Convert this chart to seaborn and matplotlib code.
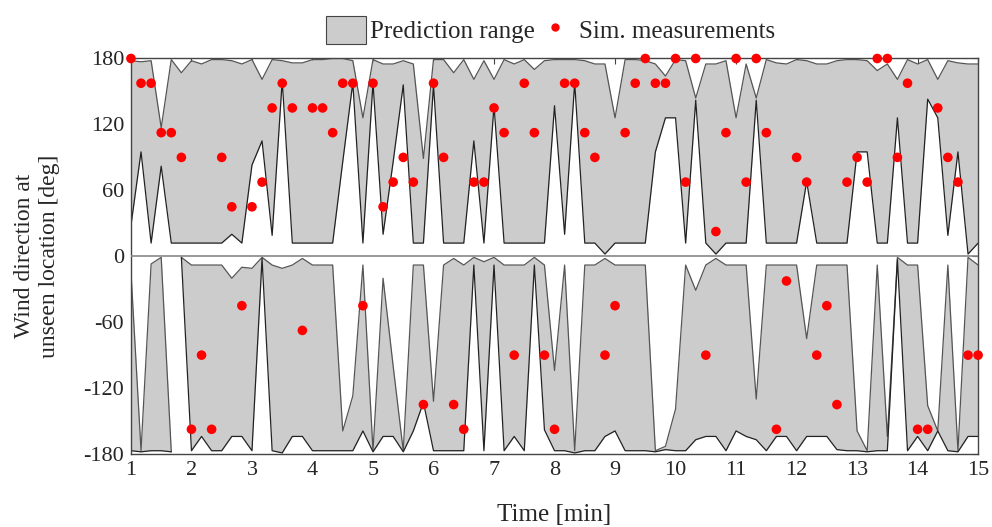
import numpy as np
import matplotlib
matplotlib.use("Agg")
import matplotlib.pyplot as plt
import seaborn as sns
from matplotlib.patches import Patch
from matplotlib.lines import Line2D

# 85 samples, one every 10 s from 1 to 15 min
time_min = np.arange(85) / 6 + 1

measured_deg = [180, 157.5, 157.5, 112.5, 112.5, 90, -157.5, -90, -157.5, 90,
                45, -45, 45, 67.5, 135, 157.5, 135, -67.5, 135, 135,
                112.5, 157.5, 157.5, -45, 157.5, 45, 67.5, 90, 67.5, -135,
                157.5, 90, -135, -157.5, 67.5, 67.5, 135, 112.5, -90, 157.5,
                112.5, -90, -157.5, 157.5, 157.5, 112.5, 90, -90, -45, 112.5,
                157.5, 180, 157.5, 157.5, 180, 67.5, 180, -90, 22.5, 112.5,
                180, 67.5, 180, 112.5, -157.5, -22.5, 90, 67.5, -90, -45,
                -135, 67.5, 90, 67.5, 180, 180, 90, 157.5, -157.5, -157.5,
                135, 90, 67.5, -90, -90]

# prediction range, positive half
pos_hi = [178, 177, 178, 117, 179, 167, 178, 175, 179, 179, 178, 175, 179, 161, 179, 178, 176,
          176, 179, 179, 180, 180, 178, 126, 179, 175, 175, 178, 175, 89, 179, 179, 167, 179,
          161, 178, 161, 179, 175, 179, 170, 178, 179, 179, 179, 178, 175, 175, 126, 179, 179,
          178, 175, 164, 179, 178, 144, 175, 175, 178, 126, 175, 144, 179, 176, 175, 179, 178,
          175, 175, 178, 179, 179, 178, 169, 175, 161, 179, 175, 179, 161, 178, 176, 175, 175]
pos_lo = [28, 95, 12, 82, 12, 12, 12, 12, 12, 12, 20, 12, 83, 105, 19, 160, 12,
          12, 12, 12, 12, 86, 158, 12, 158, 20, 86, 156, 12, 12, 156, 12, 12, 12,
          105, 12, 137, 12, 12, 12, 12, 12, 137, 20, 158, 12, 12, 2, 12, 12, 12,
          12, 95, 126, 126, 12, 142, 12, 2, 12, 12, 12, 142, 12, 12, 12, 12, 68,
          12, 12, 12, 12, 95, 95, 12, 12, 126, 12, 12, 143, 126, 19, 95, 2, 12]

# prediction range, negative half
neg_hi = [-14, -177, -7, -1, -178, -1, -8, -8, -8, -8, -20, -10, -11, -1, -8, -11, -8,
          -2, -8, -8, -8, -159, -127, -8, -177, -20, -100, -177, -8, -8, -132, -8, -2, -8,
          -1, -5, -1, -8, -8, -8, -1, -8, -104, -8, -177, -8, -8, -2, -8, -8, -8,
          -8, -177, -173, -139, -8, -31, -8, -2, -8, -8, -8, -130, -8, -8, -8, -8, -75,
          -8, -8, -8, -8, -159, -177, -8, -164, -1, -8, -8, -136, -159, -8, -177, -1, -8]
neg_lo = [-177, -178, -177, -177, -178, -1, -177, -164, -177, -177, -164, -164, -177, -2, -177, -179, -164,
          -164, -177, -177, -177, -177, -177, -159, -178, -164, -164, -178, -159, -133, -177, -177, -177, -177,
          -8, -177, -8, -177, -164, -177, -8, -158, -177, -177, -179, -177, -177, -164, -159, -177, -177,
          -177, -178, -176, -177, -177, -167, -164, -164, -177, -159, -164, -167, -177, -164, -164, -177, -164,
          -164, -164, -176, -177, -177, -178, -177, -177, -3, -177, -164, -177, -159, -177, -178, -164, -164]

# index where a new band piece starts (range empty in between)
pos_breaks = []
neg_breaks = [5]

sns.set_style("white")
plt.rcParams["font.family"] = ["Liberation Serif", "DejaVu Serif"]
plt.rcParams["axes.unicode_minus"] = False

fig = plt.figure(figsize=(9.92, 5.27), dpi=100)
ax = fig.add_axes([0.132, 0.1385, 0.854, 0.7505])

band_fc = "#cccccc"


def draw_band(hi, lo, breaks):
    edges = [0] + breaks + [len(time_min)]
    for a, b in zip(edges[:-1], edges[1:]):
        t = time_min[a:b]
        ax.fill_between(t, lo[a:b], hi[a:b], color=band_fc, linewidth=0, zorder=1)
        sns.lineplot(x=t, y=hi[a:b], ax=ax, color="#555555", linewidth=0.9, zorder=2)
        sns.lineplot(x=t, y=lo[a:b], ax=ax, color="#222222", linewidth=0.9, zorder=2)


draw_band(pos_hi, pos_lo, pos_breaks)
draw_band(neg_hi, neg_lo, neg_breaks)

ax.axhline(0, color="#888888", linewidth=1.2, zorder=3)

sns.scatterplot(x=time_min, y=measured_deg, ax=ax, color="red", s=48,
                edgecolor="none", zorder=4, clip_on=False)

ax.set_xlim(1, 15)
ax.set_ylim(-180, 180)
ax.set_xticks(range(1, 16))
ax.set_yticks([-180, -120, -60, 0, 60, 120, 180])
ax.tick_params(axis="both", direction="in", length=4, labelsize=16,
               top=True, right=True, color="#444444", pad=5)
for sp in ax.spines.values():
    sp.set_color("#444444")
    sp.set_linewidth(1.0)

ax.set_xlabel("Time [min]", fontsize=18, labelpad=17)
ax.set_ylabel("Wind direction at\nunseen location [deg]", fontsize=17, labelpad=17)

handles = [Patch(facecolor=band_fc, edgecolor="#444444", linewidth=0.8),
           Line2D([], [], marker="o", color="red", linestyle="none", markersize=5)]
fig.legend(handles, ["Prediction range", "Sim. measurements"], loc="center",
           bbox_to_anchor=(0.555, 0.943), ncol=2, frameon=False, fontsize=18,
           handlelength=1.6, handleheight=1.4, handletextpad=0.15, columnspacing=0.0)

fig.savefig("out.png", dpi=100)
